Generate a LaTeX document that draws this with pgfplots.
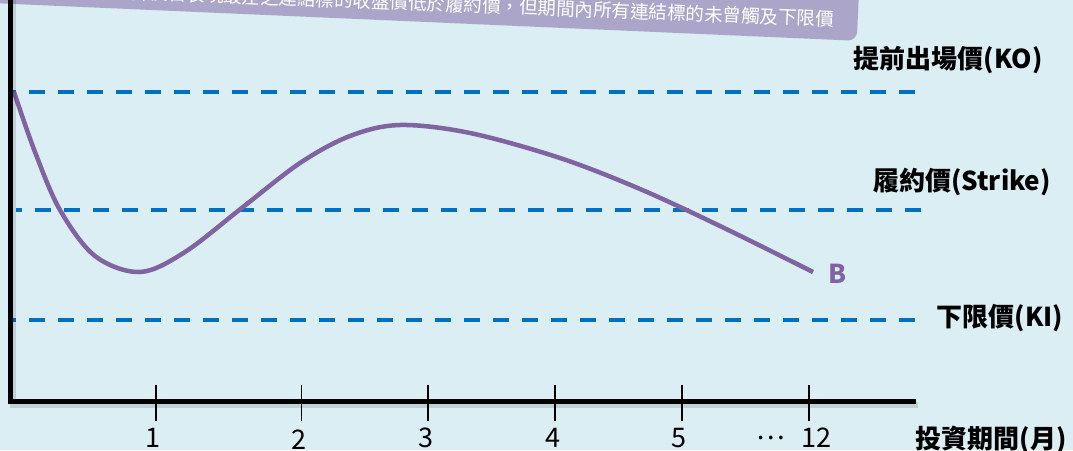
\documentclass[border=0pt]{standalone}
\usepackage{fontspec}
\setmainfont{Noto Sans CJK TC}
\usepackage{pgfplots}
\pgfplotsset{compat=1.18}
\definecolor{bgc}{HTML}{DBEEF4}
\definecolor{dashc}{HTML}{0070C0}
\definecolor{curvec}{HTML}{8064A2}
\definecolor{bannerc}{HTML}{ABA6C9}
\begin{document}
\begin{tikzpicture}
\begin{axis}[name=ax, hide axis, x=1pt, y=1pt, xmin=0, xmax=1073, ymin=0, ymax=450, y dir=reverse, clip=false]
\fill[bgc] (axis cs:0,0) rectangle (axis cs:1073,450);
% banner
\node[fill=bannerc, rounded corners=9pt, minimum width=1000pt, minimum height=70pt, rotate=-2.5, anchor=south east, inner sep=0pt] at (axis cs:857,41) {};
\node[text=white, font=\fontsize{18.5}{20}\selectfont, rotate=-2.2, anchor=east, inner sep=0pt] at (axis cs:834,19) {最終評價日表現最差之連結標的收盤價低於履約價，但期間內所有連結標的未曾觸及下限價};
% reference levels
\addplot[dashc, line width=4pt, dash pattern=on 15.7pt off 13.3pt, dash phase=11.7pt] coordinates {(12,91.7) (919,91.7)};
\addplot[dashc, line width=4pt, dash pattern=on 15.7pt off 13.3pt, dash phase=10pt] coordinates {(16,210) (924,210)};
\addplot[dashc, line width=4pt, dash pattern=on 15.7pt off 13.3pt, dash phase=11.7pt] coordinates {(12,320) (919,320)};
% price path
\addplot[curvec, line width=4.5pt, smooth, tension=0.55] coordinates {
(14,92) (35,152) (60,210) (95,256) (140,272) (185,252) (243,207) (300,163)
(350,136) (400,125) (470,133) (560,158) (640,189) (720,226) (813,272)};
% axes
\addplot[black, opacity=0.12, line width=6pt] coordinates {(13.5,0) (13.5,405) (918,405)};
\addplot[black, line width=5pt, line join=miter] coordinates {(10.5,0) (10.5,401.5) (916,401.5)};
\addplot[black, line width=1.3pt] coordinates {(156,385) (156,420.5)};
\addplot[black, line width=1.3pt] coordinates {(301.5,385) (301.5,420.5)};
\addplot[black, line width=1.3pt] coordinates {(428,385) (428,420.5)};
\addplot[black, line width=1.3pt] coordinates {(555,385) (555,420.5)};
\addplot[black, line width=1.3pt] coordinates {(682,385) (682,420.5)};
\addplot[black, line width=1.3pt] coordinates {(809,385) (809,420.5)};
% tick labels
\begin{scope}[every node/.style={font=\fontsize{27}{28}\selectfont, inner sep=0pt}]
\node at (axis cs:153,438) {1};
\node at (axis cs:299,440) {2};
\node at (axis cs:426,438) {3};
\node at (axis cs:553,438) {4};
\node at (axis cs:679,438) {5};
\node at (axis cs:771,438) {…};
\node at (axis cs:816,438) {12};
\end{scope}
% labels
\begin{scope}[every node/.style={font=\fontsize{26}{28}\selectfont\bfseries, inner sep=0pt}]
\node at (axis cs:948,60) {提前出場價(KO)};
\node at (axis cs:962,182) {履約價(Strike)};
\node at (axis cs:1000,318) {下限價(KI)};
\node at (axis cs:991,440) {投資期間(月)};
\node[text=curvec] at (axis cs:838,274) {B};
\end{scope}
\end{axis}
\pgfresetboundingbox
\path[use as bounding box] (ax.south west) rectangle (ax.north east);
\end{tikzpicture}
\end{document}
